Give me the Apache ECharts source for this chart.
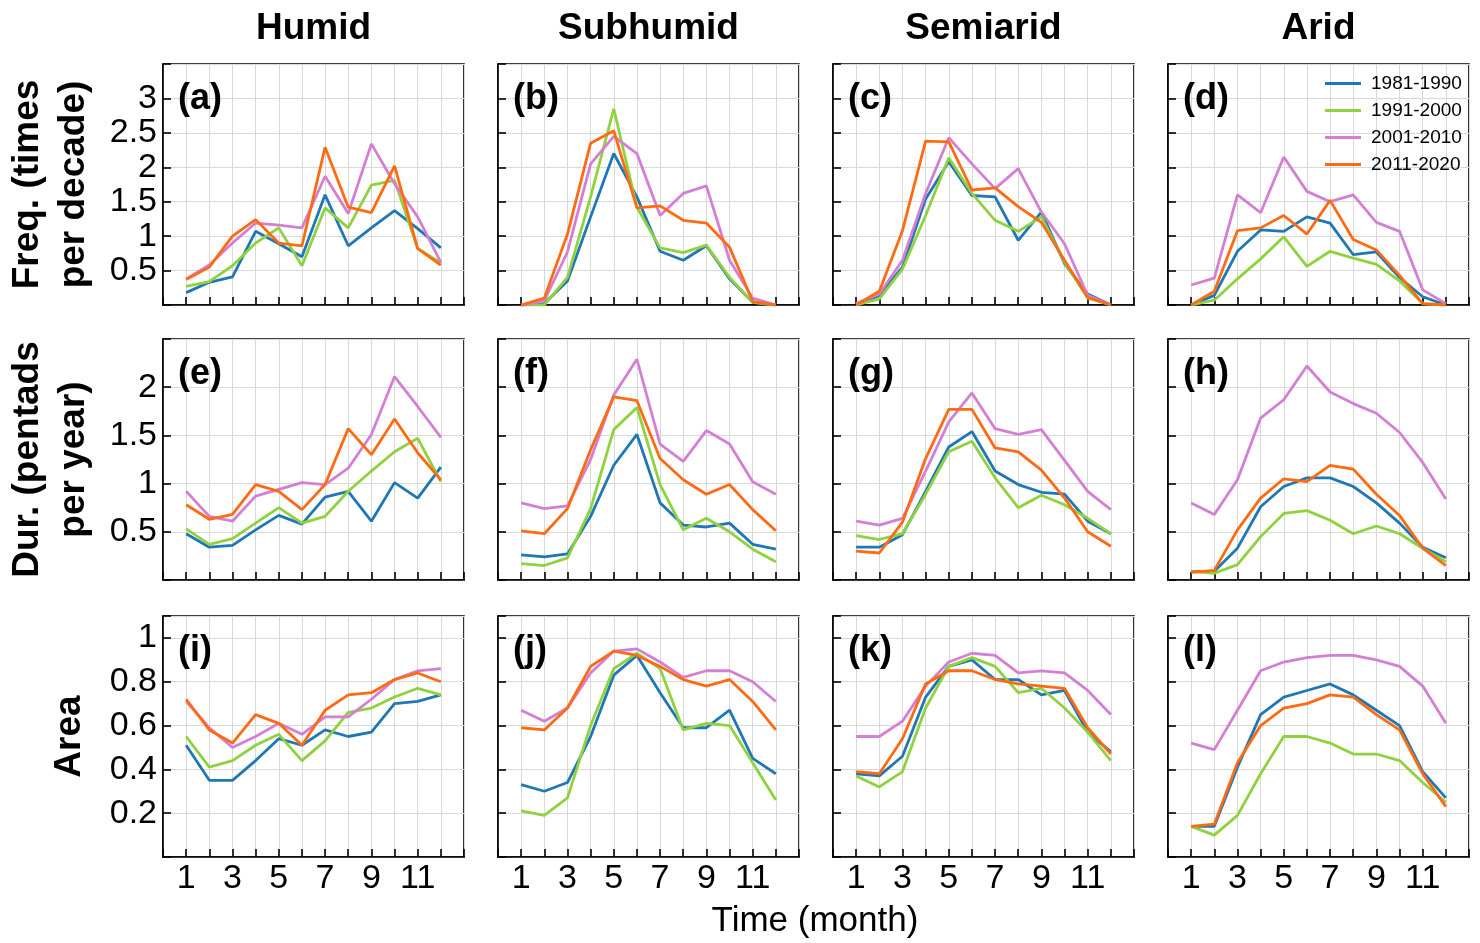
<!DOCTYPE html>
<html>
<head>
<meta charset="utf-8">
<script src="https://cdn.jsdelivr.net/npm/echarts@6/dist/echarts.min.js"></script>
<style>
html,body{margin:0;padding:0;background:#fff;}
#c{width:1480px;height:943px;}
</style>
</head>
<body>
<div id="c"></div>
<script>
// ---- data ----
const months = [1,2,3,4,5,6,7,8,9,10,11,12];
const periods = ['1981-1990','1991-2000','2001-2010','2011-2020'];
const climates = ['Humid','Subhumid','Semiarid','Arid'];
const panelLetters = ['(a)','(b)','(c)','(d)','(e)','(f)','(g)','(h)','(i)','(j)','(k)','(l)'];
const xTickLabels = [1,3,5,7,9,11];
const freqTicks = ['0.5','1','1.5','2','2.5','3'];
const durTicks = ['0.5','1','1.5','2'];
const areaTicks = ['0.2','0.4','0.6','0.8','1'];

// Frequency (times per decade): [1981-1990, 1991-2000, 2001-2010, 2011-2020]
const freqHumid = [
  [0.18,0.33,0.41,1.07,0.89,0.70,1.60,0.86,1.12,1.37,1.11,0.83],
  [0.27,0.34,0.57,0.90,1.12,0.57,1.41,1.12,1.74,1.81,0.82,0.61],
  [0.38,0.58,0.90,1.19,1.16,1.12,1.87,1.33,2.34,1.76,1.28,0.62],
  [0.37,0.55,1.00,1.24,0.90,0.86,2.29,1.42,1.34,2.02,0.82,0.58]
];
const freqSubhumid = [
  [0,0.02,0.35,1.28,2.20,1.57,0.78,0.65,0.86,0.38,0.04,0],
  [0,0,0.40,1.57,2.85,1.42,0.83,0.76,0.87,0.40,0.04,0],
  [0,0.06,0.77,2.05,2.45,2.20,1.30,1.62,1.73,0.65,0.10,0],
  [0,0.10,1.03,2.35,2.53,1.41,1.44,1.23,1.19,0.84,0.05,0]
];
const freqSemiarid = [
  [0,0.14,0.55,1.54,2.08,1.59,1.57,0.94,1.35,0.60,0.16,0],
  [0,0.09,0.52,1.30,2.14,1.62,1.23,1.07,1.28,0.62,0.10,0],
  [0.02,0.16,0.65,1.62,2.43,2.05,1.69,1.98,1.35,0.89,0.14,0],
  [0,0.20,1.08,2.38,2.37,1.67,1.70,1.43,1.20,0.65,0.11,0]
];
const freqArid = [
  [0,0.14,0.78,1.09,1.07,1.28,1.19,0.73,0.77,0.40,0.12,0],
  [0,0.07,0.38,0.67,0.99,0.56,0.78,0.68,0.59,0.35,0.02,0],
  [0.29,0.39,1.60,1.34,2.15,1.65,1.50,1.60,1.20,1.07,0.22,0.02],
  [0,0.20,1.08,1.12,1.30,1.03,1.52,0.95,0.80,0.43,0.02,0]
];
// Duration (pentads per year)
const durHumid = [
  [0.48,0.34,0.36,0.52,0.67,0.58,0.86,0.92,0.61,1.01,0.85,1.17],
  [0.53,0.37,0.43,0.59,0.75,0.59,0.66,0.92,1.13,1.33,1.47,1.02],
  [0.92,0.66,0.61,0.87,0.94,1.01,0.99,1.16,1.51,2.11,1.80,1.48],
  [0.78,0.63,0.68,0.99,0.92,0.73,0.99,1.57,1.30,1.67,1.32,1.04]
];
const durSubhumid = [
  [0.26,0.24,0.27,0.66,1.19,1.51,0.80,0.57,0.55,0.59,0.37,0.32],
  [0.17,0.15,0.23,0.74,1.56,1.79,0.99,0.52,0.64,0.50,0.32,0.19],
  [0.80,0.74,0.77,1.25,1.92,2.29,1.41,1.23,1.55,1.41,1.02,0.89],
  [0.51,0.48,0.74,1.35,1.90,1.86,1.26,1.04,0.89,0.99,0.73,0.51]
];
const durSemiarid = [
  [0.34,0.34,0.47,0.92,1.38,1.54,1.13,0.99,0.91,0.89,0.61,0.48],
  [0.46,0.42,0.48,0.89,1.33,1.44,1.06,0.75,0.88,0.78,0.64,0.48],
  [0.61,0.57,0.64,1.13,1.64,1.94,1.57,1.51,1.56,1.24,0.92,0.73],
  [0.30,0.28,0.60,1.26,1.77,1.77,1.37,1.33,1.14,0.85,0.50,0.35]
];
const durArid = [
  [0.09,0.09,0.33,0.76,0.97,1.06,1.06,0.97,0.80,0.59,0.34,0.23],
  [0.09,0.07,0.16,0.45,0.69,0.72,0.62,0.48,0.56,0.48,0.33,0.19],
  [0.80,0.68,1.04,1.68,1.87,2.22,1.95,1.83,1.73,1.53,1.22,0.84],
  [0.08,0.10,0.52,0.85,1.05,1.02,1.19,1.15,0.89,0.67,0.33,0.15]
];
// Area
const areaHumid = [
  [0.51,0.35,0.35,0.44,0.54,0.51,0.58,0.55,0.57,0.70,0.71,0.74],
  [0.55,0.41,0.44,0.51,0.56,0.44,0.53,0.66,0.68,0.73,0.77,0.74],
  [0.71,0.59,0.50,0.55,0.61,0.56,0.64,0.64,0.72,0.81,0.85,0.86],
  [0.72,0.58,0.52,0.65,0.61,0.51,0.67,0.74,0.75,0.81,0.84,0.80]
];
const areaSubhumid = [
  [0.33,0.30,0.34,0.55,0.83,0.92,0.75,0.59,0.59,0.67,0.45,0.38],
  [0.21,0.19,0.27,0.60,0.86,0.93,0.86,0.58,0.61,0.60,0.43,0.26],
  [0.67,0.62,0.68,0.84,0.94,0.95,0.89,0.82,0.85,0.85,0.80,0.71],
  [0.59,0.58,0.68,0.87,0.94,0.92,0.87,0.81,0.78,0.81,0.71,0.58]
];
const areaSemiarid = [
  [0.38,0.37,0.46,0.73,0.87,0.90,0.81,0.81,0.74,0.76,0.57,0.48],
  [0.37,0.32,0.39,0.68,0.87,0.91,0.87,0.75,0.77,0.68,0.57,0.44],
  [0.55,0.55,0.62,0.78,0.89,0.93,0.92,0.84,0.85,0.84,0.76,0.65],
  [0.39,0.38,0.54,0.79,0.85,0.85,0.81,0.79,0.78,0.77,0.59,0.47]
];
const areaArid = [
  [0.14,0.14,0.41,0.65,0.73,0.76,0.79,0.74,0.67,0.60,0.39,0.27],
  [0.14,0.10,0.19,0.38,0.55,0.55,0.52,0.47,0.47,0.44,0.34,0.25],
  [0.52,0.49,0.67,0.85,0.89,0.91,0.92,0.92,0.90,0.87,0.78,0.61],
  [0.14,0.15,0.43,0.60,0.68,0.70,0.74,0.73,0.65,0.58,0.38,0.23]
];

// ---- layout / style ----
const rowsData = [
  [freqHumid, freqSubhumid, freqSemiarid, freqArid],
  [durHumid, durSubhumid, durSemiarid, durArid],
  [areaHumid, areaSubhumid, areaSemiarid, areaArid]
];
const rowTicks = [freqTicks, durTicks, areaTicks];
const rowAxis = [
  {max:3.5, interval:0.5},
  {max:2.5, interval:0.5},
  {max:1.1, interval:0.2}
];
const colors = ['#1f77b4','#8fd13f','#d47fd4','#ff6a13'];
const colLeft = [163, 498, 833, 1168];
const rowTop = [64, 339, 616];
const W = 301, H = 241;
const FONT = 'Liberation Sans, Arial, Helvetica, sans-serif';

const grids = [], xAxes = [], yAxes = [], series = [], graphics = [];
let gi = 0;
for (let r = 0; r < 3; r++) {
  for (let c = 0; c < 4; c++) {
    grids.push({left: colLeft[c], top: rowTop[r], width: W, height: H,
      show: true, borderColor: '#000', borderWidth: 1.6, backgroundColor: 'transparent'});
    xAxes.push({
      type: 'value', gridIndex: gi, min: 0, max: 13, interval: 1,
      axisLine: {show: true, lineStyle: {color: '#000', width: 1.6}},
      axisTick: {show: true, inside: true, length: 8, lineStyle: {color: '#000', width: 1.6}},
      splitLine: {show: true, lineStyle: {color: '#d9d9d9', width: 1}},
      axisLabel: {
        show: r === 2, margin: 5, color: '#000', fontSize: 34, fontFamily: FONT,
        formatter: v => xTickLabels.indexOf(v) >= 0 ? String(v) : ''
      }
    });
    const ticks = rowTicks[r];
    yAxes.push({
      type: 'value', gridIndex: gi, min: 0, max: rowAxis[r].max, interval: rowAxis[r].interval,
      axisLine: {show: true, lineStyle: {color: '#000', width: 1.6}},
      axisTick: {show: true, inside: true, length: 8, lineStyle: {color: '#000', width: 1.6}},
      splitLine: {show: true, lineStyle: {color: '#d9d9d9', width: 1}},
      axisLabel: {
        show: c === 0, margin: 6, color: '#000', fontSize: 34, fontFamily: FONT,
        formatter: v => {
          const s = String(Math.round(v * 10) / 10);
          return ticks.indexOf(s) >= 0 ? s : '';
        }
      }
    });
    const panel = rowsData[r][c];
    for (let k = 0; k < 4; k++) {
      series.push({
        type: 'line', name: periods[k], xAxisIndex: gi, yAxisIndex: gi,
        data: months.map((m, i) => [m, panel[k][i]]),
        symbol: 'none', showSymbol: false, silent: true, animation: false,
        legendIcon: 'rect',
        lineStyle: {color: colors[k], width: 2.8}, itemStyle: {color: colors[k]}
      });
    }
    graphics.push({type: 'text', left: colLeft[c] + 15, top: rowTop[r] + 17, z: 100,
      style: {text: panelLetters[gi], font: 'bold 36px ' + FONT, fill: '#000'}});
    gi++;
  }
}
// column titles
for (let c = 0; c < 4; c++) {
  graphics.push({type: 'text', x: colLeft[c] + W / 2, y: 29,
    style: {text: climates[c], font: 'bold 37px ' + FONT, fill: '#000', align: 'center', verticalAlign: 'middle'}});
}
// row titles (rotated)
const rowTitles = [
  [['Freq. (times', 28], ['per decade)', 74]],
  [['Dur. (pentads', 28], ['per year)', 74]],
  [['Area', 70]]
];
for (let r = 0; r < 3; r++) {
  rowTitles[r].forEach(([t, x]) => {
    graphics.push({type: 'text', x: x, y: rowTop[r] + H / 2, rotation: Math.PI / 2,
      style: {text: t, font: 'bold 37px ' + FONT, fill: '#000', align: 'center', verticalAlign: 'middle'}});
  });
}
graphics.push({type: 'text', x: 815, y: 921,
  style: {text: 'Time (month)', font: '35px ' + FONT, fill: '#000', align: 'center', verticalAlign: 'middle'}});

const chart = echarts.init(document.getElementById('c'), null, {renderer: 'canvas'});
chart.setOption({
  animation: false,
  backgroundColor: '#fff',
  grid: grids, xAxis: xAxes, yAxis: yAxes, series: series,
  legend: {
    data: periods, orient: 'vertical', left: 1320, top: 69,
    icon: 'rect', itemWidth: 36, itemHeight: 3, itemGap: 8,
    textStyle: {fontSize: 19, fontFamily: FONT, color: '#000', padding: [0, 0, 0, 5]},
    selectedMode: false
  },
  graphic: graphics
});
</script>
</body>
</html>
